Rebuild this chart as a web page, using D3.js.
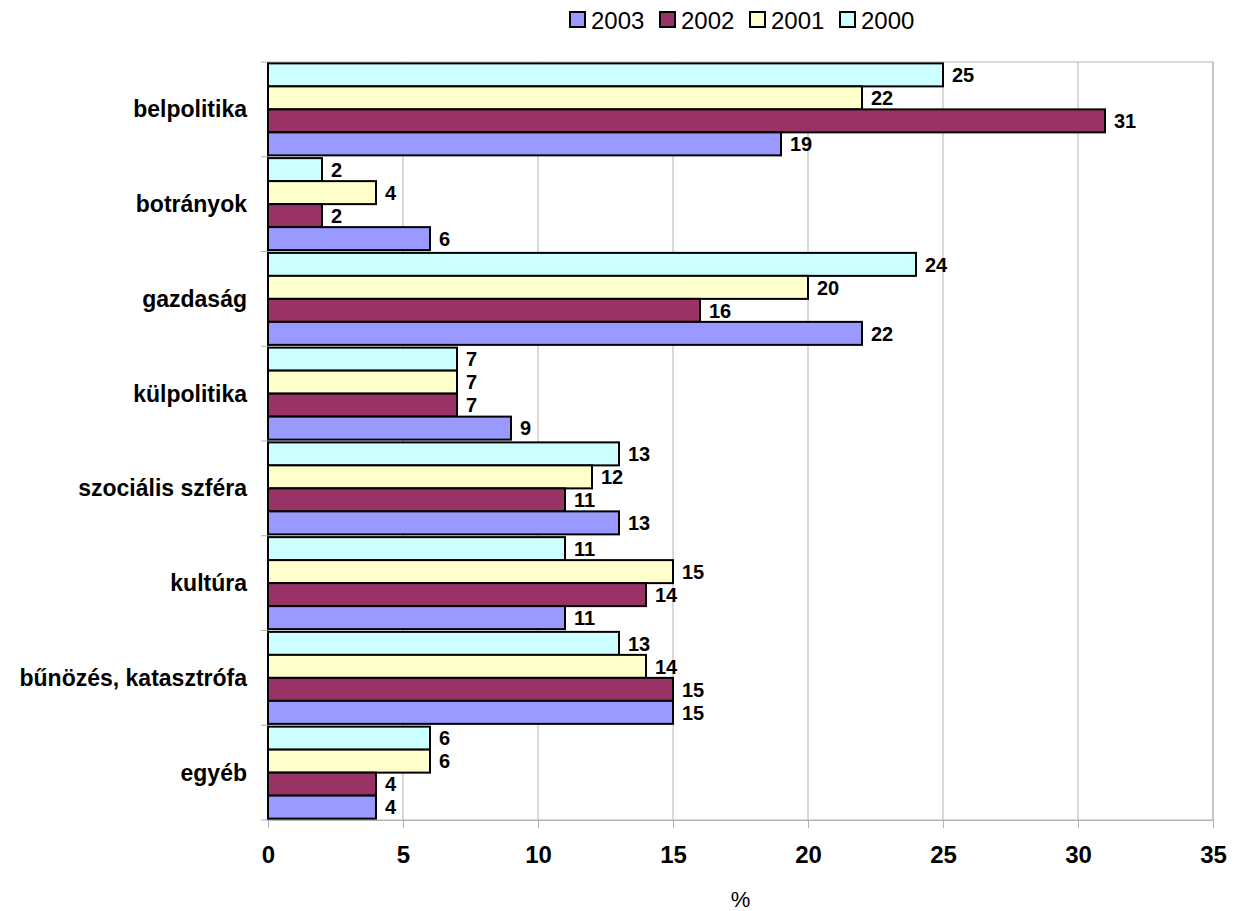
<!DOCTYPE html>
<html>
<head>
<meta charset="utf-8">
<script src="https://cdn.jsdelivr.net/npm/d3@7"></script>
<style>
  body { margin: 0; background: #fff; }
  text { font-family: "Liberation Sans", Arial, sans-serif; }
</style>
</head>
<body>
<div id="chart"></div>
<script>
const categories = ["belpolitika", "botrányok", "gazdaság", "külpolitika",
  "szociális szféra", "kultúra", "bűnözés, katasztrófa", "egyéb"];
const years = ["2000", "2001", "2002", "2003"];
const legendYears = ["2003", "2002", "2001", "2000"];
const values2000 = [25, 2, 24, 7, 13, 11, 13, 6];
const values2001 = [22, 4, 20, 7, 12, 15, 14, 6];
const values2002 = [31, 2, 16, 7, 11, 14, 15, 4];
const values2003 = [19, 6, 22, 9, 13, 11, 15, 4];
const xTicks = [0, 5, 10, 15, 20, 25, 30, 35];

const seriesValues = {"2000": values2000, "2001": values2001, "2002": values2002, "2003": values2003};
const colors = {"2003": "#9999ff", "2002": "#993366", "2001": "#ffffcc", "2000": "#ccffff"};

const width = 1237, height = 911;
const margin = {top: 62, right: 24, bottom: 91, left: 268};

const svg = d3.select("#chart").append("svg")
  .attr("width", width)
  .attr("height", height);

const x = d3.scaleLinear().domain([0, 35]).range([margin.left, width - margin.right]);
const y = d3.scaleBand().domain(categories).range([margin.top, height - margin.bottom]).padding(0);
const yInner = d3.scaleBand().domain(years).range([0, y.bandwidth()]).paddingOuter(0.06).paddingInner(0);

// grid
svg.append("g")
  .selectAll("line")
  .data(xTicks)
  .join("line")
  .attr("x1", d => x(d)).attr("x2", d => x(d))
  .attr("y1", margin.top).attr("y2", height - margin.bottom)
  .attr("stroke", "#b3b3b3");

svg.append("rect")
  .attr("x", x(0)).attr("y", margin.top)
  .attr("width", x(35) - x(0)).attr("height", height - margin.bottom - margin.top)
  .attr("fill", "none").attr("stroke", "#b3b3b3");

// bottom axis
const xAxis = svg.append("g")
  .attr("transform", `translate(0,${height - margin.bottom})`)
  .call(d3.axisBottom(x).tickValues(xTicks).tickSize(8).tickPadding(18));
xAxis.select(".domain").attr("stroke", "#b3b3b3");
xAxis.selectAll(".tick line").attr("stroke", "#b3b3b3");
xAxis.selectAll("text")
  .attr("font-size", 24).attr("font-weight", "bold")
  .attr("font-family", "Liberation Sans, Arial, sans-serif")
  .attr("fill", "#000");

// left axis ticks at category boundaries
const bounds = categories.map(c => y(c)).concat([y.range()[1]]);
svg.append("g")
  .selectAll("line")
  .data(bounds)
  .join("line")
  .attr("x1", x(0) - 7).attr("x2", x(0))
  .attr("y1", d => d).attr("y2", d => d)
  .attr("stroke", "#b3b3b3");
svg.append("line")
  .attr("x1", x(0)).attr("x2", x(0))
  .attr("y1", margin.top).attr("y2", height - margin.bottom)
  .attr("stroke", "#999");

svg.append("g")
  .selectAll("text")
  .data(categories)
  .join("text")
  .attr("x", x(0) - 21)
  .attr("y", d => y(d) + y.bandwidth() / 2)
  .attr("dy", "0.35em")
  .attr("text-anchor", "end")
  .attr("font-size", 23)
  .attr("font-weight", "bold")
  .text(d => d);

// bars
const groups = svg.append("g")
  .selectAll("g")
  .data(categories)
  .join("g")
  .attr("transform", d => `translate(0,${y(d)})`);

groups.selectAll("rect")
  .data((c, i) => years.map(yr => ({year: yr, value: seriesValues[yr][i]})))
  .join("rect")
  .attr("x", x(0))
  .attr("y", d => yInner(d.year))
  .attr("width", d => x(d.value) - x(0))
  .attr("height", yInner.bandwidth())
  .attr("fill", d => colors[d.year])
  .attr("stroke", "#000")
  .attr("stroke-width", 2);

groups.selectAll("text")
  .data((c, i) => years.map(yr => ({year: yr, value: seriesValues[yr][i]})))
  .join("text")
  .attr("x", d => x(d.value) + 9)
  .attr("y", d => yInner(d.year) + yInner.bandwidth() / 2)
  .attr("dy", "0.36em")
  .attr("font-size", 20)
  .attr("font-weight", "bold")
  .text(d => d.value);

// axis title
svg.append("text")
  .attr("x", (x(0) + x(35)) / 2)
  .attr("y", 899)
  .attr("dy", "0.35em")
  .attr("text-anchor", "middle")
  .attr("font-size", 22)
  .text("%");

// legend
const legendX = [570, 660, 750, 840];
const legend = svg.append("g")
  .selectAll("g")
  .data(legendYears)
  .join("g")
  .attr("transform", (d, i) => `translate(${legendX[i]},12)`);
legend.append("rect")
  .attr("width", 15).attr("height", 15)
  .attr("fill", d => colors[d])
  .attr("stroke", "#000").attr("stroke-width", 2);
legend.append("text")
  .attr("x", 21).attr("y", 8)
  .attr("dy", "0.36em")
  .attr("font-size", 24)
  .text(d => d);
</script>
</body>
</html>
